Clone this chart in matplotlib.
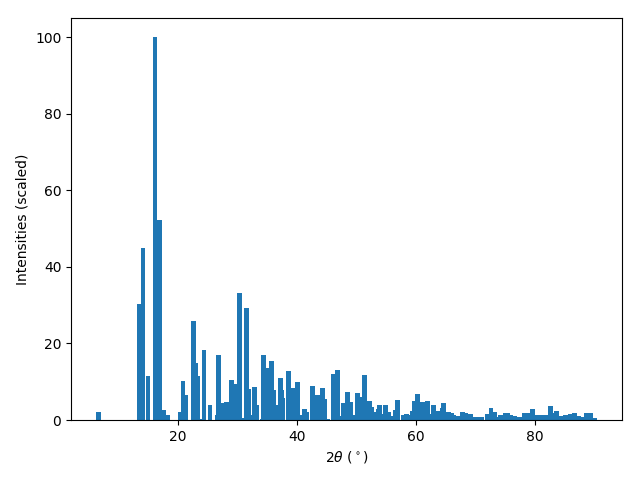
import numpy as np
import matplotlib
matplotlib.use("Agg")
import matplotlib.pyplot as plt

# peak positions (2 theta, degrees) and scaled intensities
two_theta = [
    6.72, 13.51, 14.20, 15.04, 16.22, 16.91, 17.58, 18.40,
    20.40, 20.92, 21.28, 22.61, 22.96, 23.30, 23.87, 24.45,
    25.46, 26.62, 26.81, 27.48, 28.15, 29.00, 29.52, 30.42,
    30.92, 31.51, 31.87, 32.44, 32.94, 33.21, 34.17, 34.37,
    34.96, 35.21, 35.71, 36.07, 36.72, 37.31, 37.42, 37.58,
    38.57, 39.08, 39.41, 40.08, 40.67, 41.26, 41.62, 42.61,
    43.45, 44.29, 44.64, 45.15, 46.13, 46.89, 47.31, 47.79,
    48.49, 49.01, 49.58, 50.17, 50.52, 51.01, 51.43, 52.18,
    52.54, 53.11, 53.68, 53.87, 54.37, 54.87, 55.40, 55.97,
    56.53, 56.89, 57.88, 58.40, 58.91, 59.39, 59.73, 60.25,
    61.09, 61.93, 62.44, 62.94, 63.70, 64.43, 64.62, 65.46,
    65.99, 66.32, 67.06, 67.82, 68.34, 69.16, 69.97, 70.50,
    71.00, 71.99, 72.61, 73.21, 73.70, 74.20, 75.02, 75.40,
    75.90, 76.57, 77.39, 78.21, 78.76, 79.58, 80.40, 81.09,
    81.78, 82.61, 83.11, 83.61, 84.37, 85.13, 85.95, 86.64,
    87.33, 88.12, 88.64, 89.35, 90.02,
]
intensity = [
    2.1, 30.4, 44.8, 11.5, 100.0, 52.3, 2.6, 1.3,
    2.1, 10.2, 6.5, 25.9, 14.9, 11.5, 0.3, 18.3,
    3.9, 1.3, 17.0, 4.4, 4.7, 10.5, 9.4, 33.2,
    0.5, 29.3, 8.1, 1.3, 8.6, 3.9, 0.3, 17.0,
    8.6, 13.6, 15.4, 7.9, 3.9, 11.0, 7.9, 5.8,
    12.8, 3.4, 8.4, 10.0, 1.3, 2.9, 2.1, 8.9,
    6.5, 8.4, 5.5, 0.3, 12.0, 13.1, 1.0, 4.4,
    7.3, 4.7, 1.3, 7.1, 6.0, 3.7, 11.8, 5.0,
    3.4, 2.1, 2.9, 3.9, 1.6, 3.9, 2.1, 1.0,
    2.6, 5.2, 1.3, 1.6, 1.3, 2.4, 5.0, 6.8,
    4.7, 5.0, 1.6, 3.9, 2.4, 3.1, 4.4, 2.1,
    1.8, 1.3, 1.0, 2.1, 1.8, 1.6, 0.8, 0.8,
    0.8, 1.6, 3.1, 2.1, 0.8, 1.3, 1.8, 1.8,
    1.3, 1.0, 0.8, 1.8, 1.8, 2.9, 1.3, 1.3,
    1.3, 3.7, 1.8, 2.4, 1.0, 1.3, 1.6, 1.8,
    1.0, 0.8, 1.8, 1.8, 0.5,
]

fig, ax = plt.subplots(figsize=(6.4, 4.8), dpi=100)
ax.bar(two_theta, intensity)

ax.set_xlabel(r'$2\theta$ ($^\circ$)')
ax.set_ylabel('Intensities (scaled)')

fig.subplots_adjust(left=0.111, right=0.972, top=0.9625, bottom=0.125)
plt.savefig('out.png')
